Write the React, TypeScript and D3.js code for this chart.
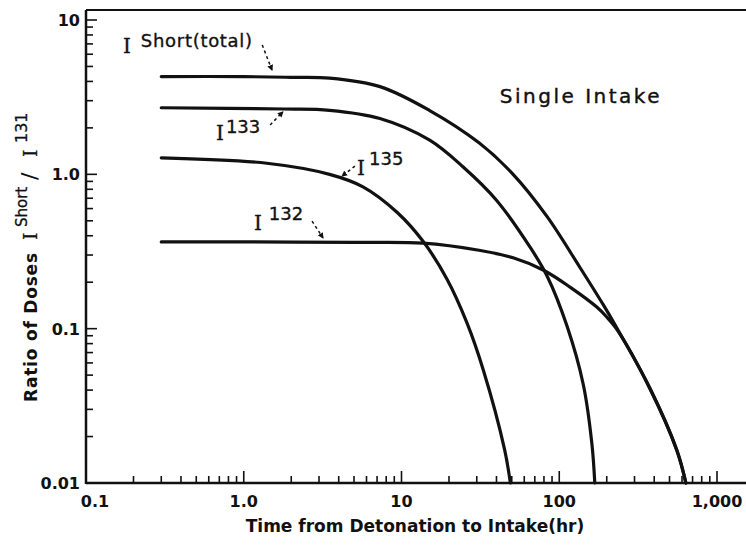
import { curveCatmullRom, line, scaleLog } from "d3";

const W = 746;
const H = 551;
const M = { top: 20, right: 29, bottom: 68, left: 86 };
const FRAME_TOP = 10;
const SANS = "'DejaVu Sans', sans-serif";
const SERIF = "'DejaVu Serif', serif";

// hours from detonation -> ratio of doses
const totalT = [0.3, 1, 2, 3.5, 7.3, 15, 31, 51, 84, 135, 190, 230, 375, 557, 635];
const totalV = [4.3, 4.3, 4.25, 4.2, 3.7, 2.6, 1.6, 1.0, 0.53, 0.25, 0.143, 0.1025, 0.0413, 0.0163, 0.01];

const i133T = [0.3, 1.8, 3.5, 7.3, 15, 24.5, 40, 65, 84, 112, 142, 161, 168];
const i133V = [2.7, 2.65, 2.6, 2.3, 1.67, 1.12, 0.68, 0.34, 0.218, 0.104, 0.0435, 0.018, 0.01];

const i135T = [0.3, 1.4, 3.5, 5.7, 9.4, 13.7, 19.4, 26, 33, 45, 49];
const i135V = [1.28, 1.18, 1.0, 0.83, 0.566, 0.368, 0.21, 0.109, 0.054, 0.0165, 0.01];

const i132T = [0.3, 1, 5, 13.7, 31, 51, 79, 117, 173, 200, 230, 375, 557, 635];
const i132V = [0.365, 0.365, 0.362, 0.358, 0.322, 0.288, 0.24, 0.186, 0.138, 0.119, 0.1, 0.041, 0.0162, 0.01];

const X_TICKS = [0.1, 1, 10, 100, 1000];
const X_TICK_LABELS = ["0.1", "1.0", "10", "100", "1,000"];
const Y_TICKS = [10, 1, 0.1, 0.01];
const Y_TICK_LABELS = ["10", "1.0", "0.1", "0.01"];

const SERIES = [
  { key: "total", t: totalT, v: totalV },
  { key: "133", t: i133T, v: i133V },
  { key: "135", t: i135T, v: i135V },
  { key: "132", t: i132T, v: i132V },
];

// call-outs: label anchor and dashed leader ends, in data units
const NOTES = [
  { sup: "Short(total)", at: [0.1715, 6.11], from: [1.31, 6.89], to: [1.51, 4.74], dx: 10, dy: -6, ls: 0.7 },
  { sup: "133", at: [0.667, 1.67], from: [1.47, 2.09], to: [1.77, 2.54], dx: 2, dy: -7, ls: 0 },
  { sup: "135", at: [5.23, 0.99], from: [5.07, 1.13], to: [4.2, 0.975], dx: 4, dy: -10, ls: 0 },
  { sup: "132", at: [1.16, 0.436], from: [2.71, 0.498], to: [3.18, 0.387], dx: 7, dy: -10, ls: 0 },
];

const isDecade = (t: number) => Math.abs(Math.log10(t) - Math.round(Math.log10(t))) < 1e-6;

export default function App() {
  const x = scaleLog().domain([0.1, 1000]).range([M.left, W - M.right]);
  const y = scaleLog().domain([0.01, 10]).range([H - M.bottom, M.top]);
  const bottom = H - M.bottom;
  const mk = line<[number, number]>()
    .x((d) => x(d[0]))
    .y((d) => y(d[1]))
    .curve(curveCatmullRom.alpha(0.5));

  return (
    <svg
      width={W}
      height={H}
      viewBox={`0 0 ${W} ${H}`}
      style={{ position: "absolute", left: 0, top: 0, background: "#fff" }}
    >
      <defs>
        <marker id="tip" viewBox="0 0 6 6" refX={5} refY={3} markerWidth={4} markerHeight={4} orient="auto">
          <path d="M0,0 L6,3 L0,6 z" fill="#111" />
        </marker>
      </defs>

      {/* frame: left axis, top rule, bottom axis */}
      <line x1={M.left} x2={M.left} y1={FRAME_TOP} y2={bottom + 1} stroke="#111" strokeWidth={2.5} />
      <line x1={M.left} x2={W} y1={FRAME_TOP} y2={FRAME_TOP} stroke="#111" strokeWidth={2} />
      <line x1={M.left} x2={W} y1={bottom} y2={bottom} stroke="#111" strokeWidth={2.5} />

      {x.ticks().map((t) => (
        <line key={`xt${t}`} x1={x(t)} x2={x(t)} y1={bottom} y2={bottom - (isDecade(t) ? 12 : 7)} stroke="#111" strokeWidth={1.6} />
      ))}
      {y.ticks().map((t) => (
        <line key={`yt${t}`} x1={M.left} x2={M.left + (isDecade(t) ? 11 : 7)} y1={y(t)} y2={y(t)} stroke="#111" strokeWidth={1.6} />
      ))}

      {X_TICKS.map((t, i) => (
        <text
          key={`xl${t}`}
          x={x(t) + (i === 0 ? 9 : 0)}
          y={bottom + 24}
          textAnchor="middle"
          fontFamily={SANS}
          fontWeight="bold"
          fontSize={16}
          fill="#111"
        >
          {X_TICK_LABELS[i]}
        </text>
      ))}
      {Y_TICKS.map((t, i) => (
        <text
          key={`yl${t}`}
          x={M.left - 6}
          y={y(t) + 6}
          textAnchor="end"
          fontFamily={SANS}
          fontWeight="bold"
          fontSize={16}
          fill="#111"
        >
          {Y_TICK_LABELS[i]}
        </text>
      ))}

      {SERIES.map((s) => (
        <path
          key={s.key}
          d={mk(s.t.map((t, i) => [t, s.v[i]] as [number, number])) ?? ""}
          fill="none"
          stroke="#111"
          strokeWidth={3.2}
          strokeLinecap="round"
        />
      ))}

      {NOTES.map((n) => (
        <g key={n.sup}>
          <text x={x(n.at[0])} y={y(n.at[1])} fill="#111" stroke="#111" strokeWidth={0.35}>
            <tspan fontFamily={SERIF} fontSize={20}>I</tspan>
            <tspan dx={n.dx} dy={n.dy} fontFamily={SANS} fontSize={18} letterSpacing={n.ls}>
              {n.sup}
            </tspan>
          </text>
          <line
            x1={x(n.from[0])}
            y1={y(n.from[1])}
            x2={x(n.to[0])}
            y2={y(n.to[1])}
            stroke="#111"
            strokeWidth={1.5}
            strokeDasharray="3 3"
            markerEnd="url(#tip)"
          />
        </g>
      ))}

      <text
        x={x(42)}
        y={y(2.9)}
        fontFamily={SANS}
        fontSize={20}
        letterSpacing={2.5}
        fill="#111"
        stroke="#111"
        strokeWidth={0.4}
      >
        Single Intake
      </text>

      <text x={415} y={532} textAnchor="middle" fontFamily={SANS} fontWeight="bold" fontSize={17} fill="#111">
        Time from Detonation to Intake(hr)
      </text>

      <g transform="translate(37,402) rotate(-90)">
        <text fill="#111" fontFamily={SANS}>
          <tspan x={0} y={0} fontWeight="bold" fontSize={17} letterSpacing={0.8}>
            Ratio of Doses
          </tspan>
          <tspan x={162} y={0} fontFamily={SERIF} fontSize={19} stroke="#111" strokeWidth={0.3}>I</tspan>
          <tspan x={175} y={-10} fontSize={15} stroke="#111" strokeWidth={0.3}>Short</tspan>
          <tspan x={222} y={0} fontSize={22}>/</tspan>
          <tspan x={245} y={0} fontFamily={SERIF} fontSize={19} stroke="#111" strokeWidth={0.3}>I</tspan>
          <tspan x={259} y={-10} fontSize={16} stroke="#111" strokeWidth={0.3}>131</tspan>
        </text>
      </g>
    </svg>
  );
}
